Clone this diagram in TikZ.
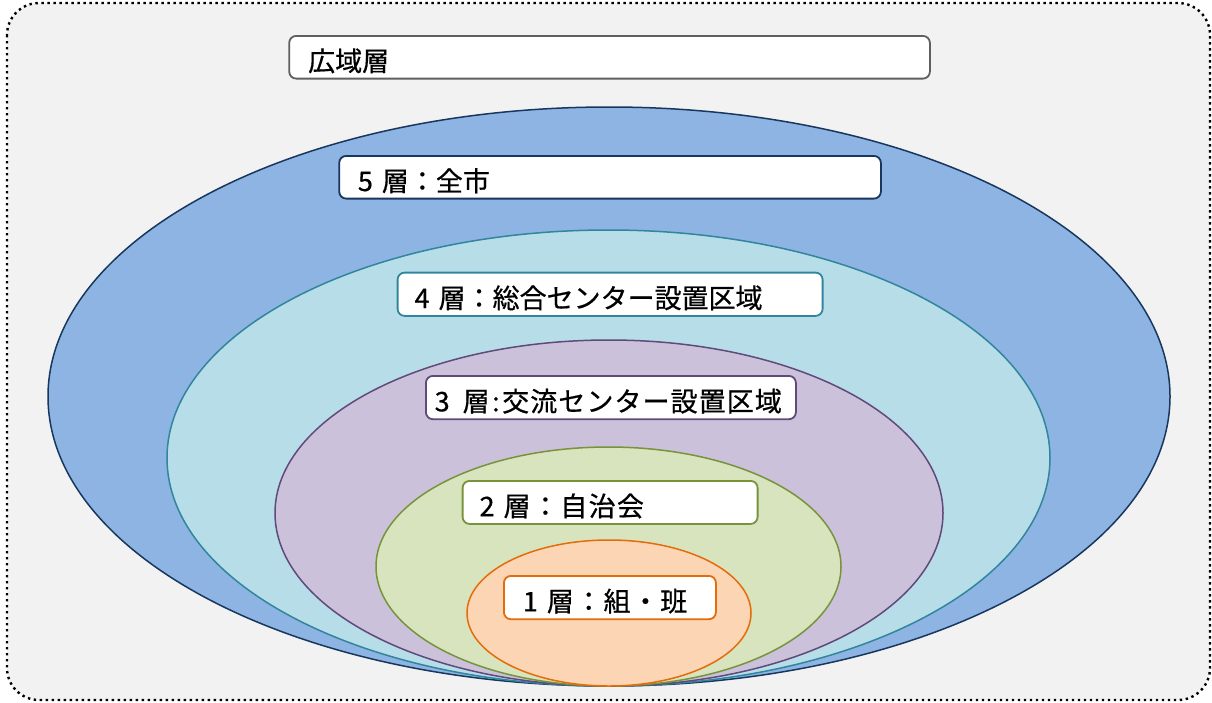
\documentclass[tikz,border=0pt]{standalone}
\usepackage{fontspec}
\newfontfamily\jp[FakeBold=0.6]{Noto Sans CJK JP}
\definecolor{bg}{HTML}{F2F2F2}
\definecolor{c0}{HTML}{5F5F5F}
\definecolor{c5}{HTML}{17375E}
\definecolor{f5}{HTML}{8EB4E3}
\definecolor{c4}{HTML}{31859C}
\definecolor{f4}{HTML}{B7DEE8}
\definecolor{c3}{HTML}{604A7B}
\definecolor{f3}{HTML}{CCC1DA}
\definecolor{c2}{HTML}{77933C}
\definecolor{f2}{HTML}{D7E4BD}
\definecolor{c1}{HTML}{E46C0A}
\definecolor{f1}{HTML}{FCD5B5}
\tikzset{
  lbl/.style={draw, fill=white, line width=1.8pt, rounded corners=7pt, anchor=north west,
    inner ysep=0pt, text height=27.6pt, text depth=0pt, align=left,
    font=\jp\fontsize{27}{30}\selectfont},
  layer/.style={line width=1.5pt},
  frame/.style={draw=black, line width=2.4pt, dash pattern=on 2.4pt off 3.6pt, fill=bg, rounded corners=32pt}
}
\begin{document}
\begin{tikzpicture}[x=1pt,y=-1pt]
\useasboundingbox (0,0) rectangle (1212,702);
\path[frame] (7,3) rectangle (1210,700);
% layers
\filldraw[layer, fill=f5, draw=c5] (609,396.5) ellipse [x radius=561pt, y radius=289.5pt];
\filldraw[layer, fill=f4, draw=c4] (608.5,458) ellipse [x radius=441.5pt, y radius=228pt];
\filldraw[layer, fill=f3, draw=c3] (609,513) ellipse [x radius=334pt, y radius=173pt];
\filldraw[layer, fill=f2, draw=c2] (608.5,566.5) ellipse [x radius=232.5pt, y radius=119.5pt];
\filldraw[layer, fill=f1, draw=c1] (609,613) ellipse [x radius=142pt, y radius=73pt];
% labels
\node[lbl, draw=c0, minimum height=42.7pt, inner xsep=19pt, text width=602.7pt] (L0) at (288.3,35) {広域層};
\node[lbl, draw=c5, minimum height=42.7pt, inner xsep=18.7pt, text width=504.3pt] (L5) at (338.3,155) {5 層：全市};
\node[lbl, draw=c4, minimum height=43.3pt, inner xsep=17pt, text width=391pt] (L4) at (396.7,271.7) {4 層：総合センター設置区域};
\node[lbl, draw=c3, minimum height=43.3pt, inner xsep=8.8pt, text width=352.4pt] (L3) at (425,375) {\addfontfeature{LetterSpace=4}3 \hspace{4pt}層\hspace{2.5pt}:\hspace{2.5pt}交流センター設置区域};
\node[lbl, draw=c2, minimum height=43pt, inner xsep=17pt, text width=261pt] (L2) at (461.7,480) {\addfontfeature{LetterSpace=5}2 層：自治会};
\node[lbl, draw=c1, minimum height=43.3pt, inner xsep=19pt, text width=174pt] (L1) at (503,575) {\addfontfeature{LetterSpace=5}1 層：組・班};
\end{tikzpicture}
\end{document}
